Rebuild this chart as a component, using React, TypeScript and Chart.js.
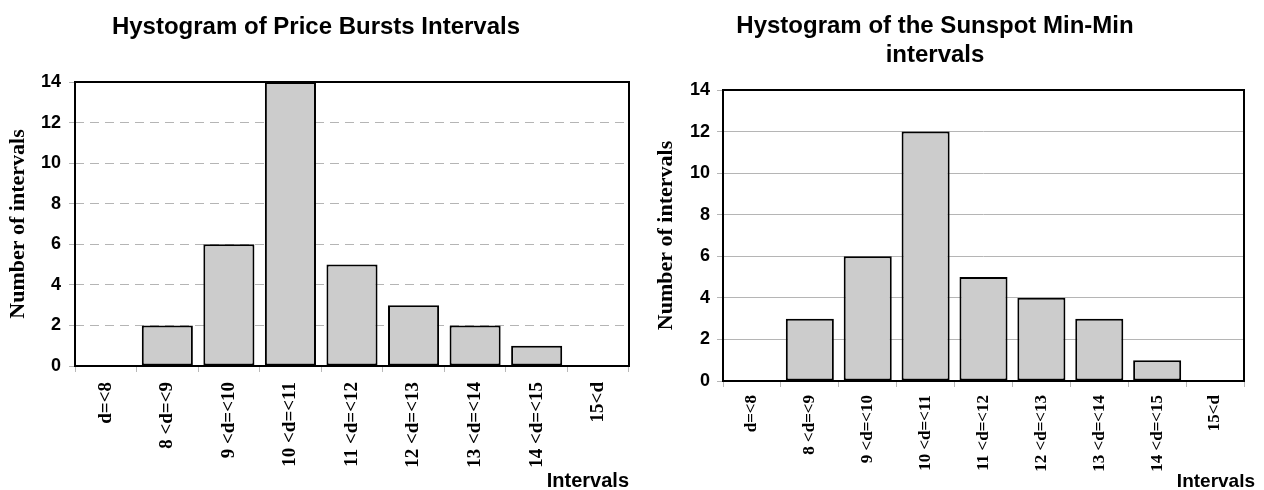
import React, { useEffect, useRef } from "react";
import { Chart, registerables } from "chart.js";

Chart.register(...registerables);

// ---------- data ----------
const categories = [
  "d=<8",
  "8 <d=<9",
  "9 <d=<10",
  "10 <d=<11",
  "11 <d=<12",
  "12 <d=<13",
  "13 <d=<14",
  "14 <d=<15",
  "15<d",
];
const priceBurstCounts = [0, 2, 6, 14, 5, 3, 2, 1, 0];
const sunspotCounts = [0, 3, 6, 12, 5, 4, 3, 1, 0];
const yTickValues = [0, 2, 4, 6, 8, 10, 12, 14];
const leftTitleLines = ["Hystogram of Price Bursts Intervals"];
const rightTitleLines = ["Hystogram of the Sunspot Min-Min", "intervals"];
const yAxisTitle = "Number of intervals";
const xAxisTitle = "Intervals";

const SERIF = "'Liberation Serif', 'Times New Roman', serif";
const SANS = "'Liberation Sans', Arial, sans-serif";

const decorPlugin = {
  id: "decor",
  afterDatasetsDraw(chart: any, _args: any, opts: any) {
    const { ctx, chartArea } = chart;
    ctx.save();
    ctx.strokeStyle = "#000";
    ctx.lineWidth = 2;
    ctx.strokeRect(
      chartArea.left,
      chartArea.top,
      chartArea.right - chartArea.left,
      chartArea.bottom - chartArea.top
    );
    ctx.restore();
  },
  afterDraw(chart: any, _args: any, opts: any) {
    const { ctx, chartArea } = chart;
    ctx.save();
    ctx.fillStyle = "#000";
    ctx.textBaseline = "alphabetic";
    ctx.textAlign = "center";
    ctx.font = opts.titleFont;
    opts.titleLines.forEach((t: string, i: number) => {
      ctx.fillText(t, opts.titleX, opts.titleBaselines[i]);
    });
    ctx.textAlign = "right";
    ctx.font = opts.xTitleFont;
    ctx.fillText(opts.xTitle, chartArea.right + opts.xTitleDx, opts.xTitleBaseline);
    ctx.restore();
  },
};

function makeConfig(p: any): any {
  return {
    type: "bar",
    data: {
      labels: categories,
      datasets: [
        {
          data: p.values,
          backgroundColor: "#cccccc",
          borderColor: "#000000",
          borderWidth: 2,
          borderSkipped: false,
          barPercentage: 0.83,
          categoryPercentage: 1,
        },
      ],
    },
    options: {
      responsive: false,
      animation: false,
      events: [],
      layout: { padding: { top: p.top, right: p.right, left: 0, bottom: 0 } },
      plugins: {
        legend: { display: false },
        title: { display: false },
        tooltip: { enabled: false },
        decor: {
          titleLines: p.titleLines,
          titleFont: `bold ${p.titleSize}px ${SANS}`,
          titleX: p.titleX,
          titleBaselines: p.titleBaselines,
          xTitle: xAxisTitle,
          xTitleFont: `bold ${p.xTitleSize}px ${SANS}`,
          xTitleDx: p.xTitleDx,
          xTitleBaseline: p.xTitleBaseline,
        },
      },
      scales: {
        x: {
          grid: {
            display: true,
            drawOnChartArea: false,
            drawTicks: true,
            tickLength: 6,
            tickColor: "#b8b8b8",
            offset: true,
          },
          border: { display: false },
          ticks: {
            autoSkip: false,
            maxRotation: 90,
            minRotation: 90,
            color: "#000",
            padding: p.xTickPad,
            font: { family: SERIF, size: p.xTickSize, weight: "bold" },
          },
          afterFit: (s: any) => {
            s.height = p.xHeight;
          },
        },
        y: {
          min: 0,
          max: 14,
          afterBuildTicks: (s: any) => {
            s.ticks = yTickValues.map((v) => ({ value: v }));
          },
          ticks: {
            color: "#000",
            padding: p.yTickPad,
            font: { family: SANS, size: 18, weight: "bold" },
          },
          grid: {
            color: "#b5b5b5",
            lineWidth: 1,
            tickLength: 6,
            tickColor: "#b5b5b5",
            tickBorderDash: [],
          },
          border: { display: false, dash: p.dash },
          title: {
            display: true,
            text: yAxisTitle,
            color: "#000",
            font: { family: SERIF, size: 22, weight: "bold" },
            padding: { top: p.yTitlePad, bottom: 0 },
          },
          afterFit: (s: any) => {
            s.width = p.yWidth;
          },
        },
      },
    },
    plugins: [decorPlugin],
  };
}

const leftParams = {
  values: priceBurstCounts,
  top: 82,
  right: 3,
  yWidth: 75,
  xHeight: 124,
  xTickPad: 10,
  xTickSize: 19,
  yTickPad: 8,
  yTitlePad: 5,
  dash: [9, 6],
  titleLines: leftTitleLines,
  titleSize: 24,
  titleX: 316,
  titleBaselines: [34],
  xTitleSize: 20,
  xTitleDx: 0,
  xTitleBaseline: 487,
};

const rightParams = {
  values: sunspotCounts,
  top: 90,
  right: 20,
  yWidth: 91,
  xHeight: 109,
  xTickPad: 8,
  xTickSize: 17,
  yTickPad: 7,
  yTitlePad: 21,
  dash: [],
  titleLines: rightTitleLines,
  titleSize: 24,
  titleX: 303,
  titleBaselines: [33, 62],
  xTitleSize: 19,
  xTitleDx: 11,
  xTitleBaseline: 487,
};

function BarChart({ params, left }: { params: any; left: number }) {
  const ref = useRef<HTMLCanvasElement | null>(null);
  useEffect(() => {
    if (!ref.current) return;
    const chart = new Chart(ref.current, makeConfig(params));
    return () => chart.destroy();
  }, [params]);
  return (
    <canvas
      ref={ref}
      width={632}
      height={490}
      style={{ position: "absolute", left, top: 0, width: 632, height: 490, display: "block" }}
    />
  );
}

export default function App() {
  return (
    <div
      style={{
        position: "absolute",
        left: 0,
        top: 0,
        width: 1264,
        height: 490,
        background: "#ffffff",
        overflow: "hidden",
      }}
    >
      <BarChart params={leftParams} left={0} />
      <BarChart params={rightParams} left={632} />
    </div>
  );
}
